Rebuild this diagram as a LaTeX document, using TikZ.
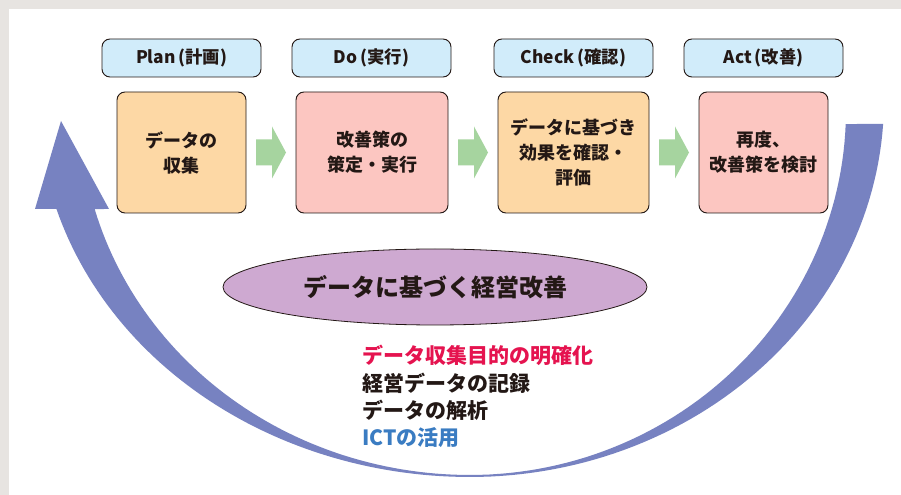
\documentclass[tikz,border=0pt]{standalone}
\usepackage{fontspec}
\setmainfont{Noto Sans CJK JP}
\usetikzlibrary{shapes.geometric,calc}
\definecolor{bggray}{HTML}{E7E4E1}
\definecolor{hdrblue}{HTML}{D1ECFA}
\definecolor{peach}{HTML}{FDD8A5}
\definecolor{pinkbox}{HTML}{FCC6C1}
\definecolor{garrow}{HTML}{A6D49F}
\definecolor{lilac}{HTML}{CEA9D1}
\definecolor{arcblue}{HTML}{7782C1}
\definecolor{redtxt}{HTML}{E5134F}
\definecolor{bluetxt}{HTML}{3A7CC2}
\definecolor{ink}{HTML}{231815}
\begin{document}
\begin{tikzpicture}[x=0.75pt,y=-0.75pt,
  hdr/.style={draw=ink, line width=0.7pt, fill=hdrblue, rounded corners=6pt,
    minimum width=119.25pt, minimum height=28.5pt, inner sep=0pt,
    font=\fontsize{13}{15}\selectfont\bfseries, text=ink},
  stepbox/.style={draw=ink, line width=0.7pt, rounded corners=6pt,
    minimum height=90.75pt, inner sep=0pt, align=center,
    font=\fontsize{13.5}{18.75}\selectfont\bfseries, text=ink},
  greenarrow/.style={fill=garrow},
  listtxt/.style={anchor=west, inner sep=0pt, font=\fontsize{15.75}{18}\selectfont\bfseries}
]
\useasboundingbox (0,0) rectangle (901,495);
\fill[bggray] (0,0) rectangle (901,495);
\fill[white] (9,9) rectangle (901,495);

% big cycle arrow (two elliptic edges meeting at the bottom)
\fill[arcblue]
  plot[domain=3.65:90, samples=60, variable=\t] ({470+414*cos(\t)}, {100+377*sin(\t)})
  -- plot[domain=90:163.2, samples=60, variable=\t] ({470+432*cos(\t)}, {100+377*sin(\t)})
  -- (35,209) -- (61,121) -- (109,209)
  -- plot[domain=164.26:90, samples=60, variable=\t] ({470+390*cos(\t)}, {110+365*sin(\t)})
  -- plot[domain=90:2.2, samples=60, variable=\t] ({470+376*cos(\t)}, {110+365*sin(\t)})
  -- cycle;

% headers
\node[hdr] (hp) at (181.5,58) {Plan\,(計画)};
\node[hdr] (hd) at (371.5,58) {Do\,(実行)};
\node[hdr] (hc) at (573.5,58) {Check\,(確認)};
\node[hdr] (ha) at (763.5,58) {Act\,(改善)};

% step boxes
\node[stepbox, fill=peach, minimum width=96.75pt] (p) at (181.5,152.5) {データの\\収集};
\node[stepbox, fill=pinkbox, minimum width=114pt] (d) at (372,152.5) {改善策の\\策定・実行};
\node[stepbox, fill=peach, minimum width=113.25pt] (c) at (573.5,152.5) {データに基づき\\効果を確認・\\評価};
\node[stepbox, fill=pinkbox, minimum width=96.75pt] (a) at (763.5,152.5) {再度、\\改善策を検討};

% green arrows between boxes
\foreach \s/\t in {p/d, d/c, c/a}{
  \fill[greenarrow] ($(\s.east)!0.5!(\t.west)$) ++(-15,-13) -- ++(16,0) -- ++(0,-13)
    -- ++(14,26) -- ++(-14,26) -- ++(0,-13) -- ++(-16,0) -- cycle;
}

% central ellipse
\node[ellipse, draw=ink, line width=0.6pt, fill=lilac, minimum width=318pt, minimum height=57pt,
  inner sep=0pt, font=\fontsize{18}{20}\selectfont\bfseries, text=ink] (e) at (435,287) {データに基づく経営改善};

% list
\node[listtxt, text=redtxt] (l1) at (362,355) {データ収集目的の明確化};
\node[listtxt, text=ink] (l2) at (362,383) {経営データの記録};
\node[listtxt, text=ink] (l3) at (362,410.5) {データの解析};
\node[listtxt, text=bluetxt] (l4) at (362,438) {ICTの活用};
\end{tikzpicture}
\end{document}
